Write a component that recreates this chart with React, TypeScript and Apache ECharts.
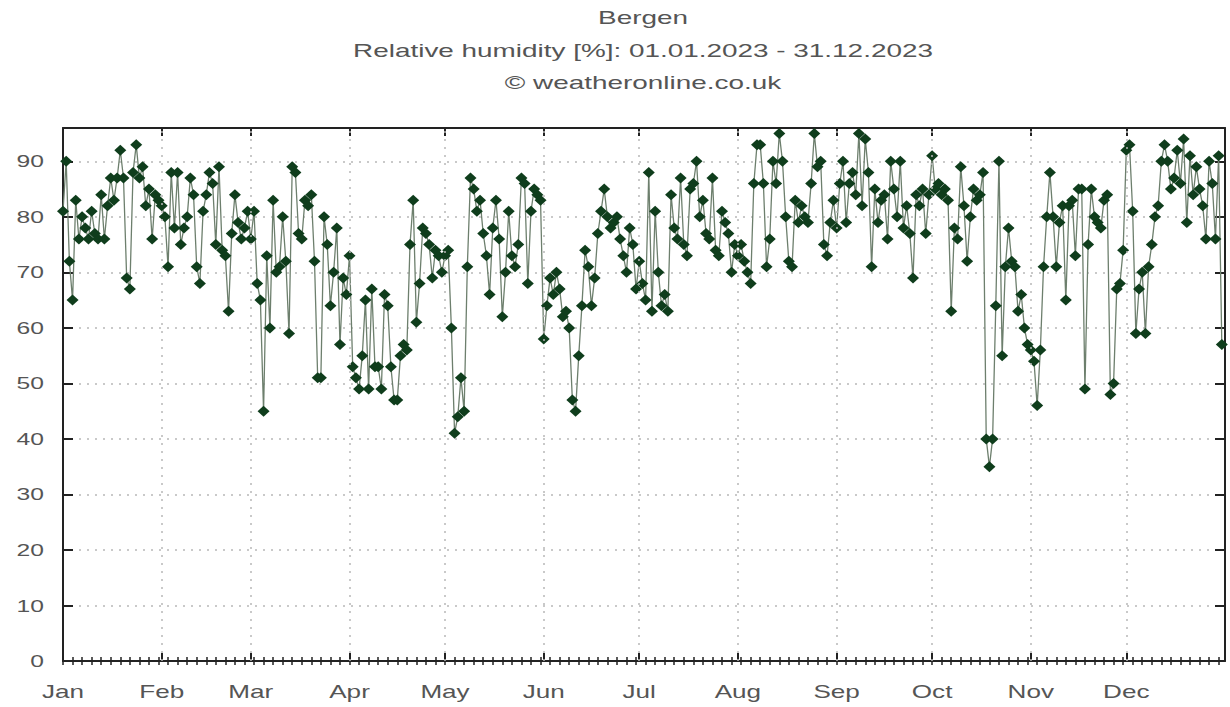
import React, { useEffect, useRef } from "react";
import * as echarts from "echarts";

// Daily relative humidity [%], Bergen 2023, month by month
const jan = [81, 90, 72, 65, 83, 76, 80, 78, 76, 81, 77, 76, 84, 76, 82, 87, 83, 87, 92, 87, 69, 67, 88, 93, 87, 89, 82, 85, 76, 84, 83];
const feb = [82, 80, 71, 88, 78, 88, 75, 78, 80, 87, 84, 71, 68, 81, 84, 88, 86, 75, 89, 74, 73, 63, 77, 84, 79, 76, 78, 81];
const mar = [76, 81, 68, 65, 45, 73, 60, 83, 70, 71, 80, 72, 59, 89, 88, 77, 76, 83, 82, 84, 72, 51, 51, 80, 75, 64, 70, 78, 57, 69, 66];
const apr = [73, 53, 51, 49, 55, 65, 49, 67, 53, 53, 49, 66, 64, 53, 47, 47, 55, 57, 56, 75, 83, 61, 68, 78, 77, 75, 69, 74, 73, 70];
const may = [73, 74, 60, 41, 44, 51, 45, 71, 87, 85, 81, 83, 77, 73, 66, 78, 83, 76, 62, 70, 81, 73, 71, 75, 87, 86, 68, 81, 85, 84, 83];
const jun = [58, 64, 69, 66, 70, 67, 62, 63, 60, 47, 45, 55, 64, 74, 71, 64, 69, 77, 81, 85, 80, 78, 79, 80, 76, 73, 70, 78, 75, 67];
const jul = [72, 68, 65, 88, 63, 81, 70, 64, 66, 63, 84, 78, 76, 87, 75, 73, 85, 86, 90, 80, 83, 77, 76, 87, 74, 73, 81, 79, 77, 70, 75];
const aug = [73, 75, 72, 70, 68, 86, 93, 93, 86, 71, 76, 90, 86, 95, 90, 80, 72, 71, 83, 79, 82, 80, 79, 86, 95, 89, 90, 75, 73, 79, 83];
const sep = [78, 86, 90, 79, 86, 88, 84, 95, 82, 94, 88, 71, 85, 79, 83, 84, 76, 90, 85, 80, 90, 78, 82, 77, 69, 84, 82, 85, 77, 84];
const oct = [91, 85, 86, 84, 85, 83, 63, 78, 76, 89, 82, 72, 80, 85, 83, 84, 88, 40, 35, 40, 64, 90, 55, 71, 78, 72, 71, 63, 66, 60, 57];
const nov = [56, 54, 46, 56, 71, 80, 88, 80, 71, 79, 82, 65, 82, 83, 73, 85, 85, 49, 75, 85, 80, 79, 78, 83, 84, 48, 50, 67, 68, 74];
const dec = [92, 93, 81, 59, 67, 70, 59, 71, 75, 80, 82, 90, 93, 90, 85, 87, 92, 86, 94, 79, 91, 84, 89, 85, 82, 76, 90, 86, 76, 91, 57];

const monthValues = [jan, feb, mar, apr, may, jun, jul, aug, sep, oct, nov, dec];
const monthNames = ["Jan", "Feb", "Mar", "Apr", "May", "Jun", "Jul", "Aug", "Sep", "Oct", "Nov", "Dec"];
const yTicks = [0, 10, 20, 30, 40, 50, 60, 70, 80, 90];

const titleLines = ["Bergen", "Relative humidity [%]: 01.01.2023 - 31.12.2023", "© weatheronline.co.uk"];

export default function App() {
  const ref = useRef<HTMLDivElement>(null);

  useEffect(() => {
    if (!ref.current) return;
    const chart = echarts.init(ref.current, null, { renderer: "svg" });

    // day-of-year offsets of each month start
    const monthStarts: number[] = [];
    let acc = 0;
    monthValues.forEach((m) => {
      monthStarts.push(acc);
      acc += m.length;
    });
    const totalDays = acc;
    const points: [number, number][] = [];
    monthValues.forEach((m, mi) => m.forEach((v, d) => points.push([monthStarts[mi] + d, v])));

    const minorTicks: number[] = [];
    for (let d = 0; d <= totalDays; d += 3) minorTicks.push(d);

    const textColor = "#555";
    const fontFamily = "'Liberation Sans', Arial, sans-serif";
    const gridColor = "#b8b8b8";

    const baseX = {
      type: "value" as const,
      min: 0,
      max: totalDays,
      splitLine: { show: false },
      axisLabel: { show: false },
    };

    chart.setOption({
      animation: false,
      backgroundColor: "#fff",
      grid: { left: 63, right: 5, top: 128, bottom: 46, containLabel: false },
      xAxis: [
        {
          ...baseX,
          position: "bottom",
          axisLine: { show: true, onZero: false, lineStyle: { color: "#222", width: 2 } },
          axisTick: { show: true, inside: true, length: 8, customValues: monthStarts, lineStyle: { color: "#222", width: 2 } },
        },
        {
          ...baseX,
          position: "bottom",
          axisLine: { show: false },
          axisTick: { show: true, inside: true, length: 4, customValues: minorTicks, lineStyle: { color: "#222", width: 1.5 } },
        },
        {
          ...baseX,
          position: "top",
          axisLine: { show: true, onZero: false, lineStyle: { color: "#222", width: 2 } },
          axisTick: { show: true, inside: true, length: 8, customValues: monthStarts, lineStyle: { color: "#222", width: 2 } },
        },
        {
          ...baseX,
          position: "top",
          axisLine: { show: false },
          axisTick: { show: true, inside: true, length: 4, customValues: minorTicks, lineStyle: { color: "#222", width: 1.5 } },
        },
      ],
      yAxis: [
        {
          type: "value",
          min: 0,
          max: 96,
          interval: 10,
          position: "left",
          axisLine: { show: true, onZero: false, lineStyle: { color: "#222", width: 2 } },
          axisTick: { show: true, inside: true, length: 10, customValues: yTicks, lineStyle: { color: "#222", width: 2 } },
          axisLabel: { show: false },
          splitLine: { show: true, lineStyle: { color: gridColor, type: [2, 6], width: 1.5 } },
        },
        {
          type: "value",
          min: 0,
          max: 96,
          interval: 10,
          position: "right",
          axisLine: { show: true, onZero: false, lineStyle: { color: "#222", width: 2 } },
          axisTick: { show: true, inside: true, length: 10, customValues: yTicks, lineStyle: { color: "#222", width: 2 } },
          axisLabel: { show: false },
          splitLine: { show: false },
        },
      ],
      series: [
        {
          type: "line",
          xAxisIndex: 0,
          yAxisIndex: 0,
          data: points,
          symbol: "diamond",
          symbolSize: [12, 11],
          showAllSymbol: true,
          itemStyle: { color: "#0f3d1c" },
          lineStyle: { color: "#6d7f6d", width: 1.3 },
          markLine: {
            silent: true,
            symbol: "none",
            label: { show: false },
            lineStyle: { color: gridColor, type: [2, 6], width: 1.5 },
            data: monthStarts.slice(1).map((d) => ({ xAxis: d })),
          },
        },
      ],
    });

    // Wide-set labels placed through the axes' own scales
    const txt = (text: string, x: number, y: number, align: string, size: number, stretch: number) => ({
      type: "text",
      x,
      y,
      scaleX: stretch,
      silent: true,
      style: { text, fill: textColor, fontFamily, fontSize: size, align, verticalAlign: "middle" },
    });

    const xLabels = monthNames.map((name, i) => {
      const px = chart.convertToPixel({ xAxisIndex: 0 }, monthStarts[i]) as number;
      return txt(name, px, 692, "center", 18, 1.45);
    });
    const yLabels = yTicks.map((v) => {
      const py = chart.convertToPixel({ yAxisIndex: 0 }, v) as number;
      return txt(String(v), 44, py, "right", 17, 1.45);
    });
    const titles = titleLines.map((t, i) => txt(t, 643, 18 + i * 32.5, "center", 18, 1.55));

    chart.setOption({ graphic: [...titles, ...xLabels, ...yLabels] });

    return () => chart.dispose();
  }, []);

  return (
    <div
      ref={ref}
      style={{ position: "fixed", left: 0, top: 0, width: 1230, height: 707, background: "#fff" }}
    />
  );
}
